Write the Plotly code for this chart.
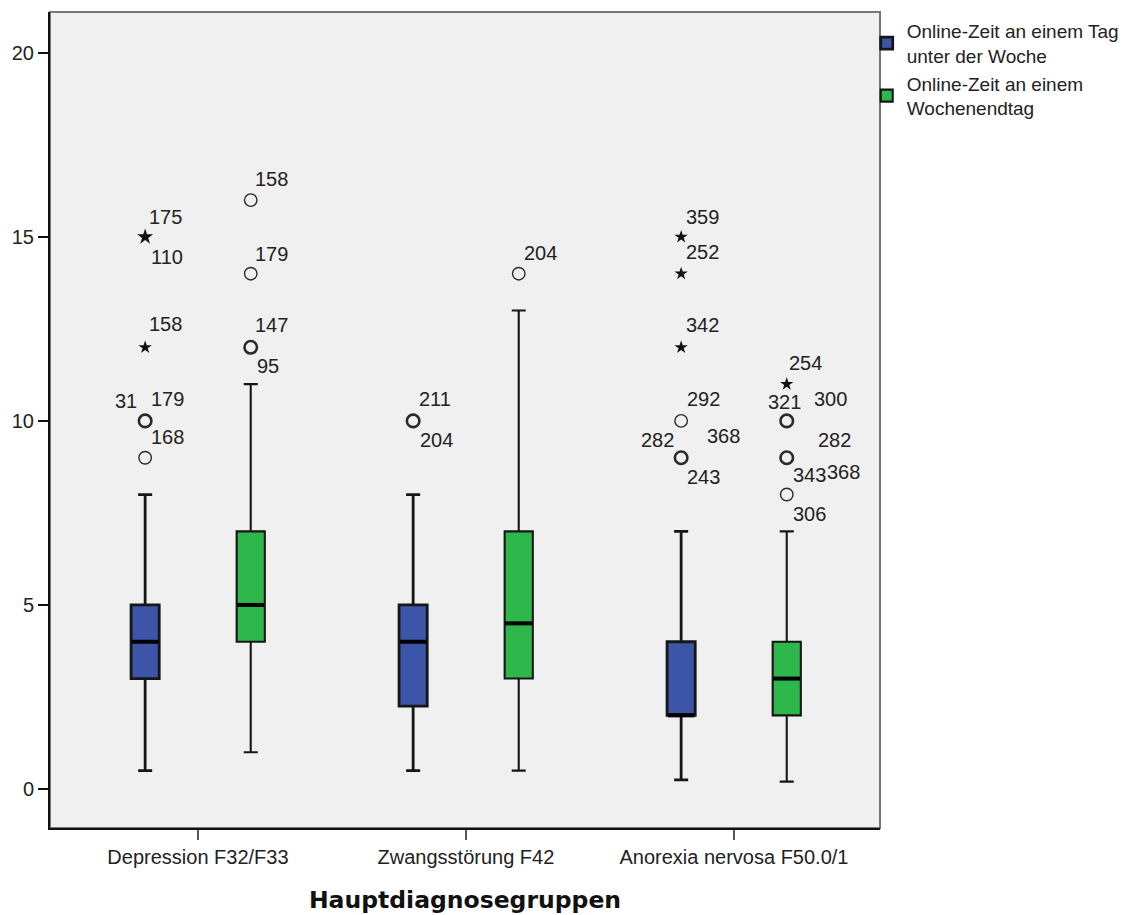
import numpy as np
import plotly.graph_objects as go
from collections import Counter

# ---------------- data ----------------
categories = ["Depression F32/F33", "Zwangsstörung F42", "Anorexia nervosa F50.0/1"]
series_names = ["Online-Zeit an einem Tag<br>unter der Woche",
                "Online-Zeit an einem<br>Wochenendtag"]

# weekday (unter der Woche)
wd_lower = [0.5, 0.5, 0.25]
wd_q1 = [3.0, 2.25, 2.0]
wd_median = [4.0, 4.0, 2.0]
wd_q3 = [5.0, 5.0, 4.0]
wd_upper = [8.0, 8.0, 7.0]
wd_out_circle = [[10, 10, 9], [10, 10], [10, 9, 9, 9]]
wd_out_star = [[15, 15, 12], [], [15, 14, 12]]

# weekend (Wochenendtag)
we_lower = [1.0, 0.5, 0.2]
we_q1 = [4.0, 3.0, 2.0]
we_median = [5.0, 4.5, 3.0]
we_q3 = [7.0, 7.0, 4.0]
we_upper = [11.0, 13.0, 7.0]
we_out_circle = [[16, 14, 12, 12], [14], [10, 10, 9, 9, 9, 8]]
we_out_star = [[], [], [11]]

# outlier case labels: (category index, series index, value, label)
case_labels = [
    (0, 0, 15, "175"), (0, 0, 15, "110"), (0, 0, 12, "158"),
    (0, 0, 10, "31"), (0, 0, 10, "179"), (0, 0, 9, "168"),
    (0, 1, 16, "158"), (0, 1, 14, "179"), (0, 1, 12, "147"), (0, 1, 12, "95"),
    (1, 0, 10, "211"), (1, 0, 10, "204"),
    (1, 1, 14, "204"),
    (2, 0, 15, "359"), (2, 0, 14, "252"), (2, 0, 12, "342"), (2, 0, 10, "292"),
    (2, 0, 9, "282"), (2, 0, 9, "368"), (2, 0, 9, "243"),
    (2, 1, 11, "254"), (2, 1, 10, "321"), (2, 1, 10, "300"),
    (2, 1, 9, "282"), (2, 1, 9, "343"), (2, 1, 9, "368"), (2, 1, 8, "306"),
]
# label placement (pixel offsets from the point), same order as case_labels
label_offsets = [
    (20, 20), (22, -20), (20, 23),
    (-19, 20), (22, 22), (22, 21),
    (21, 21), (21, 20), (21, 22), (17, -19),
    (22, 22), (23, -19),
    (22, 21),
    (21, 20), (21, 22), (21, 22), (22, 22),
    (-24, 18), (42, 22), (22, -19),
    (19, 21), (-2, 19), (44, 22),
    (48, 18), (23, -17), (57, -14), (23, -19),
]

# ---------------- style ----------------
BLUE = "#3C55A8"
GREEN = "#2EB84B"
OFFSET = 0.197
BOXW = 0.105
FONT = "Liberation Sans, Arial, sans-serif"
W, H = 1137, 915
ML, MR, MT, MB = 42, 265, 4, 95

idx = np.arange(len(categories))
series = [
    dict(name=series_names[0], color=BLUE, lw=2.8, x=idx - OFFSET,
         lower=wd_lower, q1=wd_q1, med=wd_median, q3=wd_q3, upper=wd_upper,
         circ=wd_out_circle, star=wd_out_star),
    dict(name=series_names[1], color=GREEN, lw=2.1, x=idx + OFFSET,
         lower=we_lower, q1=we_q1, med=we_median, q3=we_q3, upper=we_upper,
         circ=we_out_circle, star=we_out_star),
]

fig = go.Figure()
for s in series:
    fig.add_trace(go.Box(
        name=s["name"], x=s["x"], q1=s["q1"], median=s["med"], q3=s["q3"],
        lowerfence=s["lower"], upperfence=s["upper"],
        width=BOXW, whiskerwidth=0.5, boxpoints=False,
        fillcolor=s["color"], line=dict(color="#161616", width=s["lw"]),
        showlegend=True,
    ))

for s in series:
    # thick median bar
    fig.add_trace(go.Scatter(
        x=s["x"], y=s["med"], mode="markers", showlegend=False, hoverinfo="skip",
        marker=dict(symbol="line-ew", size=19, line=dict(width=4, color="#000000")),
    ))

# outlier markers
for si, s in enumerate(series):
    for ci in idx:
        cnt = Counter(s["circ"][ci])
        for v, n in cnt.items():
            fig.add_trace(go.Scatter(
                x=[s["x"][ci]], y=[v], mode="markers", showlegend=False,
                hoverinfo="skip",
                marker=dict(symbol="circle-open", size=12.5, color="#2a2a2a",
                            line=dict(width=1.4 if n == 1 else 2.6, color="#2a2a2a")),
            ))
        cnt = Counter(s["star"][ci])
        for v, n in cnt.items():
            fig.add_trace(go.Scatter(
                x=[s["x"][ci]], y=[v], mode="markers", showlegend=False,
                hoverinfo="skip",
                marker=dict(symbol="star", size=10 if n == 1 else 12,
                            color="#111111", line=dict(width=0)),
            ))

# case-number labels
for (ci, si, v, txt), (dx, dy) in zip(case_labels, label_offsets):
    fig.add_annotation(
        x=series[si]["x"][ci], y=v, text=txt, showarrow=False,
        xanchor="center", yanchor="middle", xshift=dx, yshift=dy,
        font=dict(family=FONT, size=20, color="#222222"),
    )

# plot frame (gray top/right)
fig.add_shape(type="rect", xref="paper", yref="paper", x0=0, x1=1, y0=0, y1=1,
              line=dict(color="#777777", width=2), layer="below")

fig.update_layout(
    width=W, height=H,
    margin=dict(l=ML, r=MR, t=MT, b=MB),
    paper_bgcolor="white", plot_bgcolor="#F0F0F0",
    font=dict(family=FONT, size=20, color="#222222"),
    showlegend=True,
    legend=dict(x=0.984, xanchor="left", y=1.0, yanchor="top",
                font=dict(family=FONT, size=19, color="#222222"),
                bgcolor="rgba(0,0,0,0)", tracegroupgap=0, itemwidth=30,
                borderwidth=0),
    xaxis=dict(range=[-0.552, 2.545], tickvals=list(idx), ticktext=categories,
               showgrid=False, zeroline=False, showline=True, linecolor="#111111",
               linewidth=2, ticks="outside", ticklen=10, tickcolor="#555555",
               tickwidth=2, tickfont=dict(size=20),
               title=dict(text="<b>Hauptdiagnosegruppen</b>", standoff=25,
                          font=dict(family="DejaVu Sans, sans-serif", size=23.5,
                                    color="#111111"))),
    yaxis=dict(range=[-1.06, 21.11], tickvals=[0, 5, 10, 15, 20],
               showgrid=False, zeroline=False, showline=True, linecolor="#111111",
               linewidth=2, ticks="outside", ticklen=10, tickcolor="#111111",
               tickwidth=2, tickfont=dict(size=20)),
)

fig.write_html("out.html")
